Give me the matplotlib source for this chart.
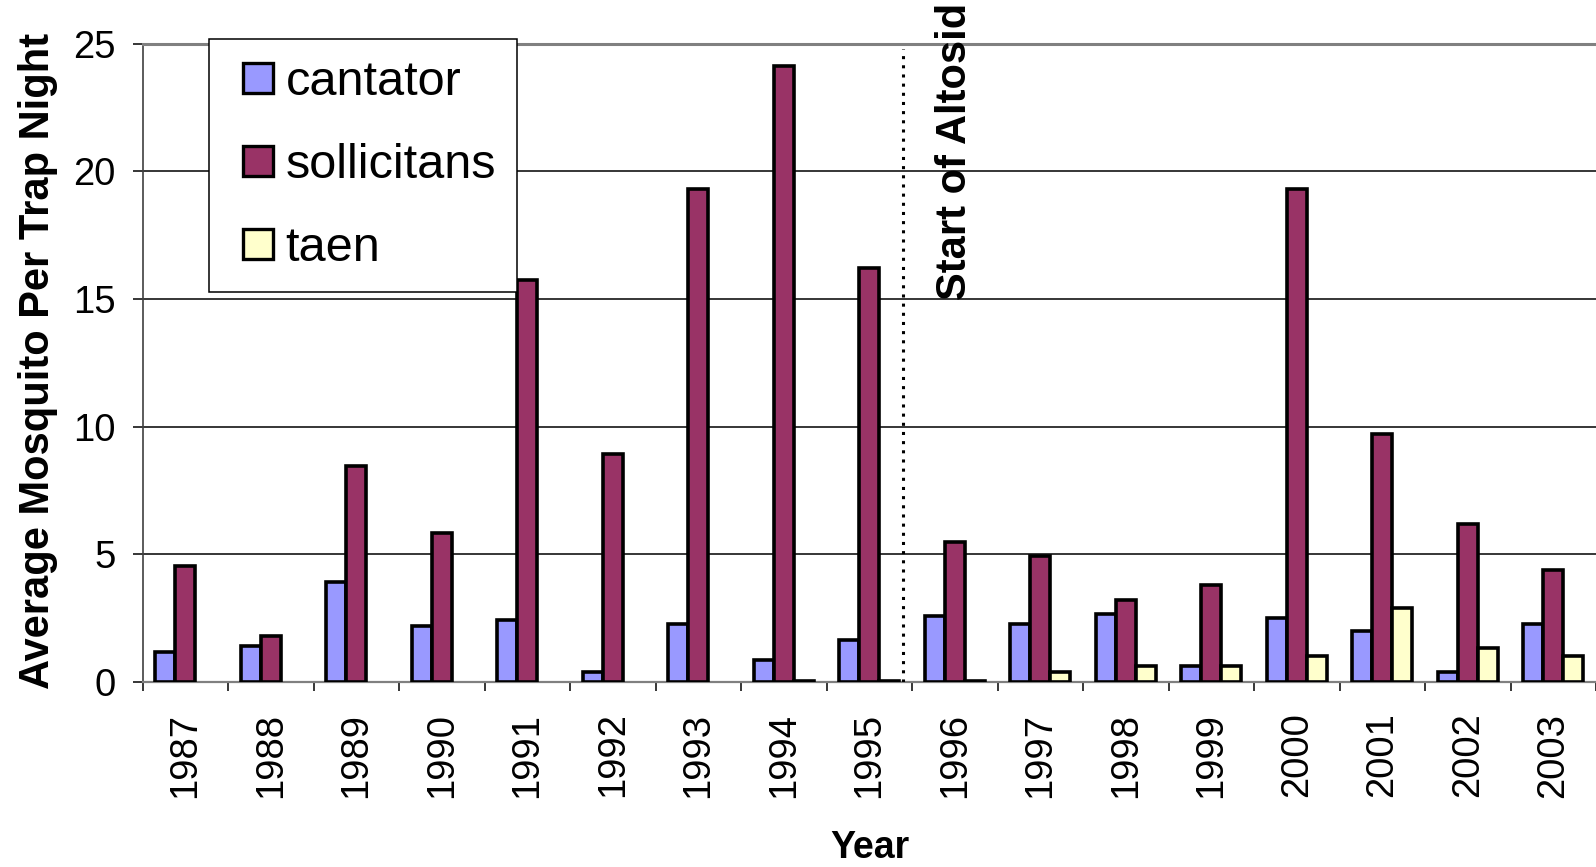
import numpy as np
import matplotlib
matplotlib.use("Agg")
import matplotlib.pyplot as plt
from matplotlib.lines import Line2D

years = ["1987", "1988", "1989", "1990", "1991", "1992", "1993", "1994", "1995",
         "1996", "1997", "1998", "1999", "2000", "2001", "2002", "2003"]
cantator = [1.16, 1.40, 3.91, 2.19, 2.41, 0.38, 2.27, 0.86, 1.64,
            2.58, 2.27, 2.67, 0.62, 2.51, 1.98, 0.38, 2.28]
sollicitans = [4.55, 1.79, 8.45, 5.82, 15.75, 8.93, 19.30, 24.12, 16.23,
               5.47, 4.93, 3.22, 3.78, 19.30, 9.73, 6.18, 4.40]
taen = [0, 0, 0, 0, 0, 0, 0, 0.05, 0.05,
        0.05, 0.40, 0.62, 0.62, 1.01, 2.89, 1.34, 1.01]
series_names = ["cantator", "sollicitans", "taen"]
series_colors = ["#9999FF", "#993366", "#FFFFCC"]
altosid_label = "Start of Altosid"

plt.rcParams['font.family'] = ['Liberation Sans', 'DejaVu Sans']

fig = plt.figure(figsize=(15.96, 8.67), dpi=100)
ax = fig.add_axes([0.0893, 0.2134, 1.0 - 0.0893, 0.9495 - 0.2134])

x = np.arange(len(years))
w = 0.233
for i, (vals, name, col) in enumerate(zip([cantator, sollicitans, taen], series_names, series_colors)):
    v = np.array(vals, dtype=float)
    v = np.where(v == 0, np.nan, v)
    ax.bar(x + (i - 1) * w, v, width=w, color=col, edgecolor="black",
           linewidth=2.6, label=name, zorder=3)

ax.set_xlim(-0.5, len(years) - 0.5)
ax.set_ylim(0, 25)
ax.set_yticks([0, 5, 10, 15, 20, 25])
ax.yaxis.grid(True, color="black", linewidth=1.1, zorder=0)
ax.set_axisbelow(True)

ax.set_xticks(x)
ax.set_xticklabels(years, rotation=90, fontsize=27.5)
ax.set_xticks(np.arange(-0.5, len(years), 1.0), minor=True)
ax.tick_params(axis='x', which='major', length=0, pad=22)
ax.tick_params(axis='x', which='minor', length=6.5, width=1.1, color="black")
ax.tick_params(axis='y', labelsize=27.5, length=7, width=1.1, pad=12.5, color="black")

ax.spines["right"].set_visible(False)
ax.spines["top"].set_color("#808080")
ax.spines["top"].set_linewidth(2.2)
ax.spines["left"].set_color("#404040")
ax.spines["left"].set_linewidth(1.2)
ax.spines["bottom"].set_color("#808080")
ax.spines["bottom"].set_linewidth(1.6)

ax.set_ylabel("Average Mosquito Per Trap Night", fontsize=30, fontweight="bold")
ax.yaxis.set_label_coords(-0.058, 0.503)
ax.set_xlabel("Year", fontsize=27, fontweight="bold")
ax.xaxis.set_label_coords(0.5005, -0.232)

ax.vlines(8.39, 0, 24.8, colors="black", linestyles=(0, (1, 2)), linewidth=2.2, zorder=4)
ax.text(9.0, 14.95, altosid_label, rotation=90, ha="center", va="bottom",
        fontsize=30, fontweight="bold", clip_on=False)

handles = [Line2D([], [], linestyle="none", marker="s", markersize=21,
                  markerfacecolor=c, markeredgecolor="black", markeredgewidth=2.4)
           for c in series_colors]
leg = ax.legend(handles, series_names, loc="upper left", bbox_to_anchor=(0.0455, 1.008),
                borderaxespad=0, fontsize=35, handlelength=1.15, handletextpad=0.0,
                labelspacing=0.79, borderpad=0.43, fancybox=False, framealpha=1,
                edgecolor="black")
leg.get_frame().set_linewidth(1.1)
leg.set_zorder(5)

fig.savefig("out.png", dpi=100)
